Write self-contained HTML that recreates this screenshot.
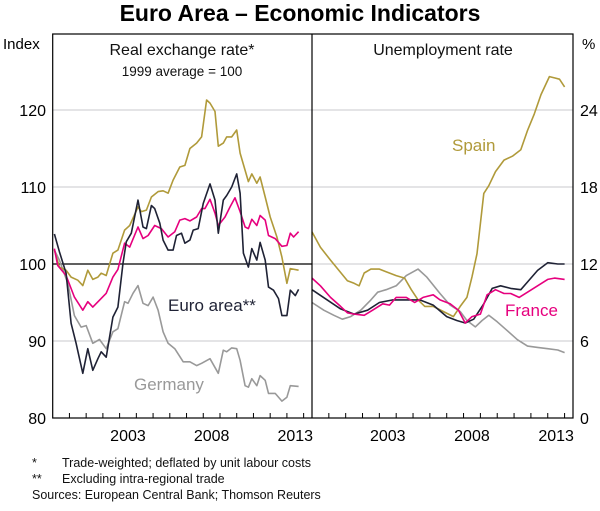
<!DOCTYPE html>
<html><head><meta charset="utf-8"><style>
body{margin:0;background:#fff;}
svg text{font-family:"Liberation Sans",Arial,sans-serif;}
</style></head><body>
<svg id="chart" width="600" height="506" viewBox="0 0 600 506" xmlns="http://www.w3.org/2000/svg">
<text x="300" y="21" text-anchor="middle" font-size="23" font-weight="bold" fill="#000">Euro Area – Economic Indicators</text>
<g id="grid"></g>
<g id="series"></g>
<rect x="52.7" y="34" width="520.3" height="384" fill="none" stroke="#000" stroke-width="1.2"/>
<line x1="312" y1="34" x2="312" y2="418" stroke="#000" stroke-width="1.2"/>
<g id="axes"></g>
<text x="3" y="49" font-size="15">Index</text>
<text x="582" y="49" font-size="15">%</text>
<text x="182" y="55" text-anchor="middle" font-size="16" fill="#111">Real exchange rate*</text>
<text x="182" y="76" text-anchor="middle" font-size="13.5" fill="#111">1999 average = 100</text>
<text x="443" y="55" text-anchor="middle" font-size="16" fill="#111">Unemployment rate</text>
<text x="168" y="311" font-size="17" fill="#1f2235">Euro area**</text>
<text x="134" y="390" font-size="17" fill="#999">Germany</text>
<text x="452" y="151" font-size="17" fill="#b09a3a">Spain</text>
<text x="505" y="316" font-size="17" fill="#e6007e">France</text>
<g font-size="12.5" fill="#111">
<text x="32" y="467">*</text><text x="62" y="467">Trade-weighted; deflated by unit labour costs</text>
<text x="32" y="483">**</text><text x="62" y="483">Excluding intra-regional trade</text>
<text x="32" y="499">Sources: European Central Bank; Thomson Reuters</text>
</g>
</svg>
<script>
const leftTicks=[80,90,100,110,120];
const rightTicks=[0,6,12,18,24];
const yearLabels=[2003,2008,2013];
const euroRerX=[1999.1,1999.4,1999.8,2000.1,2000.4,2000.8,2001.1,2001.4,2001.7,2001.9,2002.2,2002.6,2002.9,2003.2,2003.4,2003.7,2004.1,2004.4,2004.6,2004.9,2005.1,2005.4,2005.6,2005.9,2006.2,2006.4,2006.7,2006.9,2007.2,2007.4,2007.7,2008.0,2008.4,2008.7,2008.9,2009.2,2009.4,2009.7,2010.0,2010.2,2010.4,2010.7,2010.9,2011.2,2011.4,2011.7,2011.9,2012.2,2012.5,2012.7,2013.0,2013.2,2013.5,2013.7];
const euroRer=[103.9,101.6,98.8,92.3,89.7,85.8,89.0,86.2,87.7,88.6,87.9,93.1,94.4,100.1,102.9,104.0,108.3,104.8,104.6,107.6,107.2,105.3,103.1,101.8,101.8,103.7,104.0,102.7,103.1,104.4,104.6,107.9,110.4,108.3,104.0,108.3,108.9,110.0,111.7,109.2,101.4,99.6,102.0,100.5,102.8,100.5,97.0,96.6,95.5,93.3,93.3,96.6,95.9,96.7];
const franceRerX=[1999.1,1999.3,1999.8,2000.3,2000.8,2001.1,2001.4,2001.8,2002.2,2002.6,2002.9,2003.3,2003.6,2004.1,2004.4,2004.7,2005.1,2005.5,2005.9,2006.3,2006.6,2006.9,2007.2,2007.6,2007.9,2008.1,2008.4,2008.7,2008.9,2009.3,2009.6,2009.9,2010.2,2010.5,2010.7,2010.9,2011.2,2011.4,2011.7,2011.9,2012.3,2012.7,2013.0,2013.2,2013.4,2013.7];
const franceRer=[102.0,99.8,98.5,95.7,94.0,95.1,94.4,95.3,96.2,98.3,99.3,102.7,102.2,104.8,103.3,103.7,105.0,104.6,103.5,104.2,105.7,105.9,105.6,106.1,107.2,107.2,108.4,106.6,105.0,106.1,107.4,108.6,106.8,104.8,104.6,105.8,105.0,106.3,105.7,103.7,103.3,102.3,102.4,104.0,103.5,104.2];
const spainRerX=[1999.1,1999.4,1999.8,2000.1,2000.5,2000.8,2001.1,2001.4,2001.7,2001.9,2002.2,2002.6,2002.9,2003.3,2003.6,2004.1,2004.3,2004.6,2004.9,2005.3,2005.6,2005.9,2006.2,2006.6,2006.9,2007.2,2007.6,2007.9,2008.2,2008.4,2008.7,2008.9,2009.2,2009.4,2009.7,2010.0,2010.2,2010.7,2010.9,2011.2,2011.4,2011.7,2012.0,2012.4,2012.7,2013.0,2013.2,2013.7];
const spainRer=[101.8,99.6,99.2,98.3,97.9,97.2,99.2,98.0,98.3,98.8,98.5,101.4,101.8,104.4,105.0,107.4,106.8,107.0,108.7,109.4,109.5,109.2,110.9,112.6,112.8,115.0,115.7,116.5,121.3,120.9,119.8,115.3,115.7,116.5,116.5,117.4,114.4,110.7,111.7,110.5,111.3,108.7,106.1,103.5,100.9,97.5,99.4,99.2];
const germanyRerX=[1999.1,1999.4,1999.9,2000.3,2000.7,2001.0,2001.4,2001.8,2002.2,2002.6,2002.9,2003.3,2003.5,2003.8,2004.1,2004.4,2004.7,2005.0,2005.3,2005.6,2005.9,2006.3,2006.8,2007.2,2007.6,2007.9,2008.4,2008.9,2009.2,2009.4,2009.7,2010.0,2010.2,2010.5,2010.7,2010.9,2011.2,2011.4,2011.7,2011.9,2012.3,2012.7,2013.0,2013.2,2013.7];
const germanyRer=[101.8,100.5,97.5,93.3,91.8,92.0,89.7,90.2,89.0,91.2,91.6,95.1,94.9,96.2,97.2,94.9,94.6,95.7,94.0,91.2,89.7,89.0,87.3,87.3,86.8,87.1,87.7,85.8,88.8,88.6,89.1,89.0,87.5,84.2,84.0,85.1,84.2,85.5,84.9,83.2,83.2,82.2,82.7,84.2,84.1];
const spainUX=[1999.0,1999.5,2000.1,2000.6,2001.1,2001.5,2001.8,2002.1,2002.5,2003.0,2003.4,2004.0,2004.5,2004.9,2005.3,2005.7,2006.2,2006.8,2007.4,2007.8,2008.2,2008.5,2008.8,2009.2,2009.5,2009.9,2010.4,2010.9,2011.4,2011.8,2012.2,2012.6,2013.1,2013.4,2013.7,2014.0];
const spainU=[14.5,13.3,12.3,11.5,10.7,10.5,10.3,11.3,11.6,11.6,11.4,11.1,10.9,10.0,9.2,8.7,8.7,8.3,7.9,8.7,9.4,11.0,12.8,17.5,18.1,19.2,20.1,20.4,20.9,22.4,23.7,25.2,26.6,26.5,26.4,25.8];
const euroUX=[1999.0,1999.9,2000.7,2001.5,2002.3,2003.0,2003.8,2004.6,2005.4,2006.2,2007.0,2007.6,2008.1,2008.6,2009.2,2009.7,2010.2,2010.8,2011.4,2011.8,2012.4,2013.0,2013.6,2014.0];
const euroU=[10.0,9.2,8.5,8.1,8.4,9.0,9.2,9.2,9.2,8.8,7.9,7.6,7.4,7.7,8.9,10.1,10.3,10.1,10.0,10.6,11.5,12.1,12.0,12.0];
const franceUX=[1999.0,1999.5,2000.1,2000.7,2001.1,2001.5,2002.1,2002.6,2003.2,2003.6,2004.0,2004.6,2005.1,2005.6,2006.2,2006.6,2007.2,2007.7,2008.1,2008.5,2009.0,2009.4,2009.9,2010.4,2010.8,2011.3,2011.8,2012.4,2013.0,2013.4,2014.0];
const franceU=[10.9,10.3,9.4,8.7,8.2,8.1,8.0,8.4,8.9,8.8,9.4,9.4,9.0,9.4,9.6,9.2,8.9,8.4,7.4,7.9,8.1,9.6,10.0,9.7,9.7,9.4,9.8,10.3,10.8,10.9,10.8];
const germanyUX=[1999.0,1999.7,2000.3,2000.8,2001.3,2001.9,2002.5,2002.9,2003.4,2004.0,2004.6,2005.3,2005.8,2006.6,2007.2,2007.8,2008.2,2008.7,2009.1,2009.5,2010.0,2010.6,2011.2,2011.8,2012.4,2013.0,2013.6,2014.0];
const germanyU=[9.0,8.4,8.0,7.7,7.9,8.4,9.2,9.8,10.0,10.3,11.1,11.6,11.0,9.7,8.8,8.3,7.6,7.1,7.6,8.0,7.5,6.8,6.1,5.6,5.5,5.4,5.3,5.1];

const NS="http://www.w3.org/2000/svg";
const TOP=34,BOT=418,LX0=52.7,LX1=312,RX0=312,RX1=573,Y0=1999,Y1=2014.5;
const xL=y=>LX0+(y-Y0)/(Y1-Y0)*(LX1-LX0);
const xR=y=>RX0+(y-Y0)/(Y1-Y0)*(RX1-RX0);
const yL=v=>BOT-(v-80)/40*(BOT-110);
const yR=v=>BOT-v/24*(BOT-110);
function mk(tag,attrs,parent){const e=document.createElementNS(NS,tag);for(const k in attrs)e.setAttribute(k,attrs[k]);parent.appendChild(e);return e;}
const grid=document.getElementById('grid'),axes=document.getElementById('axes'),ser=document.getElementById('series');
leftTicks.forEach(v=>{
  if(v!==80){const l=mk('line',{x1:LX0,x2:LX1,y1:yL(v),y2:yL(v),stroke:v===100?'#000':'#c8c8cc','stroke-width':v===100?1.2:1},grid);
  
  }
  const t=mk('text',{x:46,y:yL(v)+6,'text-anchor':'end','font-size':16},axes);t.textContent=v;
  
  
});
rightTicks.forEach(v=>{
  if(v!==0){const l=mk('line',{x1:RX0,x2:RX1,y1:yR(v),y2:yR(v),stroke:'#c8c8cc','stroke-width':1},grid);
  
  }
  const t=mk('text',{x:580,y:yR(v)+6,'font-size':16},axes);t.textContent=v;
  
  
});
for(let y=2000;y<=2014;y++){
  [xL,xR].forEach(f=>{const l=mk('line',{x1:f(y),x2:f(y),y1:BOT,y2:BOT-5,stroke:'#000','stroke-width':1},axes);
  
  });
}
yearLabels.forEach(y=>{
  [xL,xR].forEach(f=>{const t=mk('text',{x:f(y+0.5),y:441,'text-anchor':'middle','font-size':16},axes);t.textContent=y;
  
  });
});
function line(xs,vs,fx,fy,color,name){
  const d=xs.map((x,i)=>(i?'L':'M')+fx(x).toFixed(1)+' '+fy(vs[i]).toFixed(1)).join(' ');
  const p=mk('path',{d:d,fill:'none',stroke:color,'stroke-width':1.6,'stroke-linejoin':'round'},ser);
  
  
}
line(germanyRerX,germanyRer,xL,yL,'#999','germany-rer-line');
line(spainRerX,spainRer,xL,yL,'#b09a3a','spain-rer-line');
line(franceRerX,franceRer,xL,yL,'#e6007e','france-rer-line');
line(euroRerX,euroRer,xL,yL,'#1f2235','euro-area-rer-line');
line(germanyUX,germanyU,xR,yR,'#999','germany-unemployment-line');
line(spainUX,spainU,xR,yR,'#b09a3a','spain-unemployment-line');
line(euroUX,euroU,xR,yR,'#1f2235','euro-area-unemployment-line');
line(franceUX,franceU,xR,yR,'#e6007e','france-unemployment-line');
</script>
</body></html>
